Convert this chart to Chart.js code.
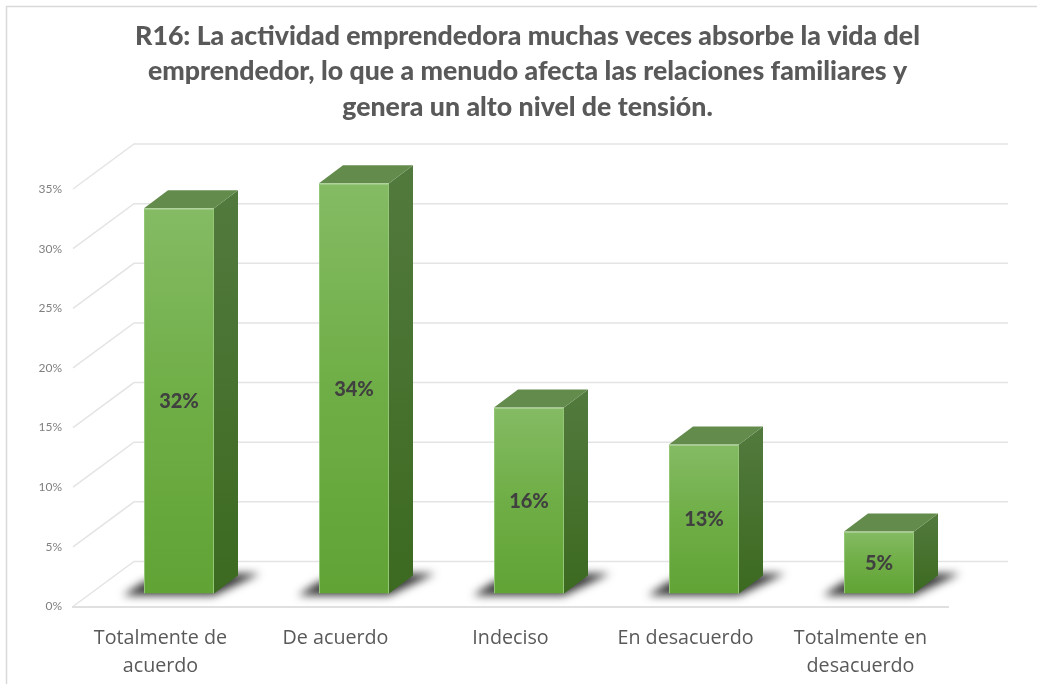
<!DOCTYPE html>
<html><head><meta charset="utf-8">
<script src="https://cdn.jsdelivr.net/npm/chart.js@4"></script>
<style>html,body{margin:0;padding:0;background:#fff}canvas{display:block}</style>
</head><body>
<canvas id="c" width="1037" height="684"></canvas>
<script>
const categories = [['Totalmente de','acuerdo'],'De acuerdo','Indeciso','En desacuerdo',['Totalmente en','desacuerdo']];
const values = [32.3, 34.4, 15.6, 12.5, 5.2];
const yTicks = [0,5,10,15,20,25,30,35];
const titleLines = ['R16: La actividad emprendedora muchas veces absorbe la vida del','emprendedor, lo que a menudo afecta las relaciones familiares y','genera un alto nivel de tensión.'];

const FONT = 'Lato, "Open Sans", sans-serif';
const SHIFT_X = 18.5, SHIFT_Y = -13;   // bars stand mid-way along the floor depth
const DX = 24, DY = 18;                // bar depth
const WALL_DX = 61, WALL_DY = -45, WALL_R = 1008;

function grad(ctx, y0, y1, stops){
  const g = ctx.createLinearGradient(0,y0,0,y1);
  stops.forEach(([p,c])=>g.addColorStop(p,c));
  return g;
}

const scene = {
  id:'scene',
  beforeDatasetsDraw(chart){
    const {ctx, scales:{x,y}} = chart;
    ctx.save();
    // frame
    ctx.strokeStyle='#d9d9d9'; ctx.lineWidth=1.5;
    ctx.beginPath(); ctx.moveTo(6.5,684); ctx.lineTo(6.5,6.5); ctx.lineTo(1037,6.5); ctx.stroke();
    // walls
    ctx.strokeStyle='#e4e4e4'; ctx.lineWidth=1.5;
    yTicks.forEach(t=>{
      const py=y.getPixelForValue(t);
      ctx.beginPath();
      ctx.moveTo(x.left,py);
      ctx.lineTo(x.left+WALL_DX,py+WALL_DY);
      ctx.lineTo(WALL_R,py+WALL_DY);
      ctx.stroke();
    });
    const bars = chart.getDatasetMeta(0).data;
    // floor shadows
    bars.forEach(b=>{
      const l=b.x-b.width/2+SHIFT_X, r=b.x+b.width/2+SHIFT_X, f=b.base+SHIFT_Y;
      ctx.save();
      ctx.filter='blur(4px)';
      ctx.fillStyle='rgba(30,30,30,.88)';
      ctx.beginPath();
      ctx.moveTo(l-21,f+2); ctx.lineTo(r,f+2); ctx.lineTo(r+46,f-20); ctx.lineTo(r+10,f-20); ctx.lineTo(l,f-12);
      ctx.closePath(); ctx.fill();
      ctx.restore();
    });
    // top and side faces
    bars.forEach(b=>{
      const l=b.x-b.width/2+SHIFT_X, r=b.x+b.width/2+SHIFT_X, t=b.y+SHIFT_Y, f=b.base+SHIFT_Y;
      ctx.fillStyle=grad(ctx,t-DY,f,[[0,'#527a3e'],[1,'#3c6a20']]);
      ctx.beginPath(); ctx.moveTo(r,t); ctx.lineTo(r+DX,t-DY); ctx.lineTo(r+DX,f-DY); ctx.lineTo(r,f); ctx.closePath(); ctx.fill();
      ctx.fillStyle='#638b4c';
      ctx.beginPath(); ctx.moveTo(l,t); ctx.lineTo(l+DX,t-DY); ctx.lineTo(r+DX,t-DY); ctx.lineTo(r,t); ctx.closePath(); ctx.fill();
    });
    ctx.restore();
    ctx.save();
    ctx.translate(SHIFT_X,SHIFT_Y);
  },
  afterDatasetsDraw(chart){
    const {ctx} = chart;
    ctx.restore();
    ctx.save();
    ctx.fillStyle='#404040';
    ctx.font='900 20px '+FONT;
    ctx.textAlign='center'; ctx.textBaseline='middle';
    chart.getDatasetMeta(0).data.forEach((b,i)=>{
      ctx.fillText(Math.round(values[i])+'%', b.x+SHIFT_X, (b.y+b.base)/2+SHIFT_Y+1);
    });
    ctx.restore();
  }
};

new Chart(document.getElementById('c'),{
  type:'bar',
  data:{labels:categories,datasets:[{
    data:values,
    clip:false,
    categoryPercentage:1,
    barPercentage:0.4,
    borderWidth:1,
    borderColor:'#93c675',
    backgroundColor(c){
      const s=c.chart.scales.y;
      if(!s||!c.chart.chartArea||c.raw==null) return '#70ad47';
      return grad(c.chart.ctx,s.getPixelForValue(c.raw),s.getPixelForValue(0),[[0,'#84bb64'],[.5,'#6fae46'],[1,'#61a335']]);
    }
  }]},
  options:{
    responsive:false,
    animation:false,
    layout:{padding:{left:18,right:0,top:0,bottom:0}},
    plugins:{
      legend:{display:false},
      tooltip:{enabled:false},
      title:{display:true,text:titleLines,color:'#595959',
        font:{family:FONT,weight:'900',size:26.7,lineHeight:'35.5px'},
        padding:{top:18.5,bottom:64}}
    },
    scales:{
      x:{
        grid:{display:false,drawTicks:false},
        border:{display:true,color:'#e0e0e0',width:2},
        ticks:{color:'#595959',font:{family:'"Open Sans", sans-serif',size:19.7,lineHeight:'28px'},padding:18,autoSkip:false,maxRotation:0,minRotation:0},
        afterFit(s){s.height=77.5;}
      },
      y:{
        position:'left',min:0,max:35,
        grid:{display:false,drawTicks:false},
        border:{display:false},
        ticks:{color:'#808080',font:{family:FONT,size:12},padding:11,stepSize:5,callback:v=>v+'%'},
        afterFit(s){s.width=55;}
      },
      spacer:{
        position:'right',display:true,
        grid:{display:false,drawTicks:false},
        border:{display:false},
        ticks:{display:false},
        afterFit(s){s.width=89;}
      }
    }
  },
  plugins:[scene]
});
</script>
</body></html>
